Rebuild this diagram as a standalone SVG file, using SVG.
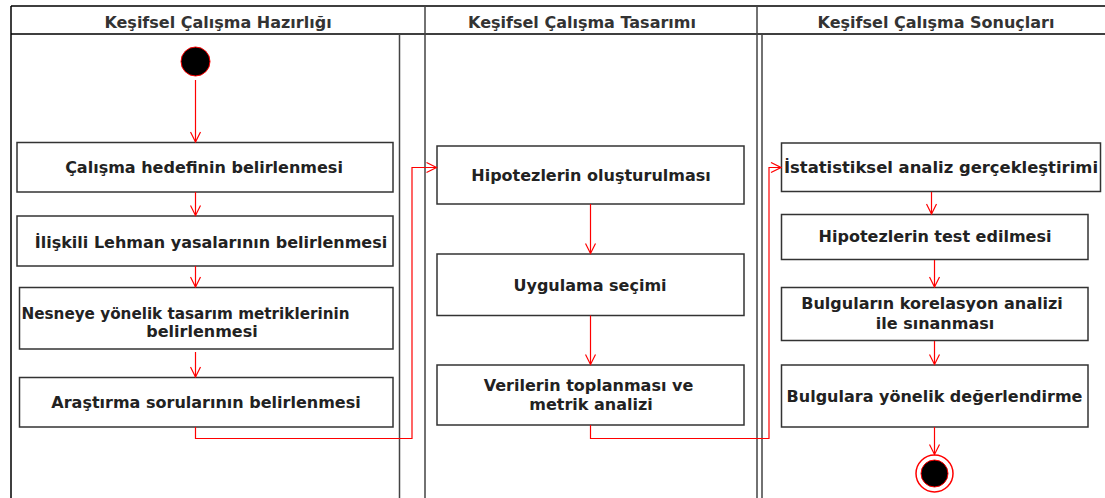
<svg xmlns="http://www.w3.org/2000/svg" width="1105" height="498" viewBox="0 0 1105 498">
<style>
.lane{fill:none;stroke:#000;stroke-width:1.5}
.lane2{fill:none;stroke:#444;stroke-width:1.5}
.box{fill:#fff;stroke:#333;stroke-width:1.5}
.t{font-family:"DejaVu Sans",Verdana,sans-serif;font-weight:bold;font-size:16px;fill:#222;text-anchor:middle}
.h{font-family:"DejaVu Sans",Verdana,sans-serif;font-weight:bold;font-size:16px;fill:#333;text-anchor:middle}
.c{fill:none;stroke:#ff0000;stroke-width:1.2}
</style>
<defs>
<marker id="arr" viewBox="0 0 12 12" refX="11" refY="6" markerWidth="12" markerHeight="12" markerUnits="userSpaceOnUse" orient="auto">
<path d="M1,1 L11,6 L1,11" fill="none" stroke="#ff0000" stroke-width="1.2"/>
</marker>
</defs>
<rect width="1105" height="498" fill="#fff"/>
<g id="swimlanes">
<path class="lane" d="M11,6 H1105 M11,34 H1105 M11,6 V498"/>
<path class="lane2" d="M425,6 V498 M757,6 V498 M399.5,34 V498 M762,34 V498"/>
<text class="h" x="218" y="28">Keşifsel Çalışma Hazırlığı</text>
<text class="h" x="582" y="28">Keşifsel Çalışma Tasarımı</text>
<text class="h" x="936" y="28">Keşifsel Çalışma Sonuçları</text>
</g>
<g id="start"><circle cx="195.5" cy="61.5" r="14.5" fill="#000" stroke="#ff0000" stroke-width="1"/></g>
<g id="n1"><rect class="box" x="17" y="142.5" width="376" height="49.5"/><text class="t" x="204" y="172.5">Çalışma hedefinin belirlenmesi</text></g>
<g id="n2"><rect class="box" x="17" y="216" width="376" height="50"/><text class="t" x="211" y="248">İlişkili Lehman yasalarının belirlenmesi</text></g>
<g id="n3"><rect class="box" x="19.5" y="287.5" width="373.5" height="61.5"/><text class="t" x="185.5" y="318.5" textLength="328" lengthAdjust="spacingAndGlyphs">Nesneye yönelik tasarım metriklerinin</text><text class="t" x="202" y="336.5">belirlenmesi</text></g>
<g id="n4"><rect class="box" x="19.5" y="377.5" width="373.5" height="49.5"/><text class="t" x="206" y="408">Araştırma sorularının belirlenmesi</text></g>
<g id="n5"><rect class="box" x="437" y="146" width="307" height="58"/><text class="t" x="591" y="180.5">Hipotezlerin oluşturulması</text></g>
<g id="n6"><rect class="box" x="437" y="254" width="307" height="61.5"/><text class="t" x="590" y="290.5">Uygulama seçimi</text></g>
<g id="n7"><rect class="box" x="437" y="365" width="307" height="60"/><text class="t" x="588.5" y="390.5">Verilerin toplanması ve</text><text class="t" x="591" y="410">metrik analizi</text></g>
<g id="n8"><rect class="box" x="781.5" y="143" width="319" height="48.5"/><text class="t" x="941" y="173" textLength="314" lengthAdjust="spacingAndGlyphs">İstatistiksel analiz gerçekleştirimi</text></g>
<g id="n9"><rect class="box" x="781.5" y="214.5" width="306.5" height="45"/><text class="t" x="935" y="241.5">Hipotezlerin test edilmesi</text></g>
<g id="n10"><rect class="box" x="781.5" y="287.5" width="306.5" height="53"/><text class="t" x="932" y="309">Bulguların korelasyon analizi</text><text class="t" x="935" y="329">ile sınanması</text></g>
<g id="n11"><rect class="box" x="781.5" y="365" width="306.5" height="62"/><text class="t" x="934.5" y="401.5">Bulgulara yönelik değerlendirme</text></g>
<g id="end"><circle cx="934.5" cy="473.5" r="18.5" fill="#fff" stroke="#ff0000" stroke-width="1.5"/><circle cx="934.5" cy="473.5" r="13.5" fill="#000" stroke="#ff0000" stroke-width="1"/></g>
<g id="connectors">
<path class="c" marker-end="url(#arr)" d="M195.5,80 V142"/>
<path class="c" marker-end="url(#arr)" d="M195.5,192 V215.5"/>
<path class="c" marker-end="url(#arr)" d="M195.5,266 V287"/>
<path class="c" marker-end="url(#arr)" d="M195.5,352 V377"/>
<path class="c" marker-end="url(#arr)" d="M195.5,427 V438.5 H412 V167.5 H436.5"/>
<path class="c" marker-end="url(#arr)" d="M590.5,204 V253.5"/>
<path class="c" marker-end="url(#arr)" d="M590.5,315.5 V364.5"/>
<path class="c" marker-end="url(#arr)" d="M590.5,425 V438.5 H769 V167.5 H781"/>
<path class="c" marker-end="url(#arr)" d="M931.5,192 V214"/>
<path class="c" marker-end="url(#arr)" d="M934.5,260 V287"/>
<path class="c" marker-end="url(#arr)" d="M934.5,341 V364.5"/>
<path class="c" marker-end="url(#arr)" d="M934.5,427 V454.5"/>
</g>
</svg>
